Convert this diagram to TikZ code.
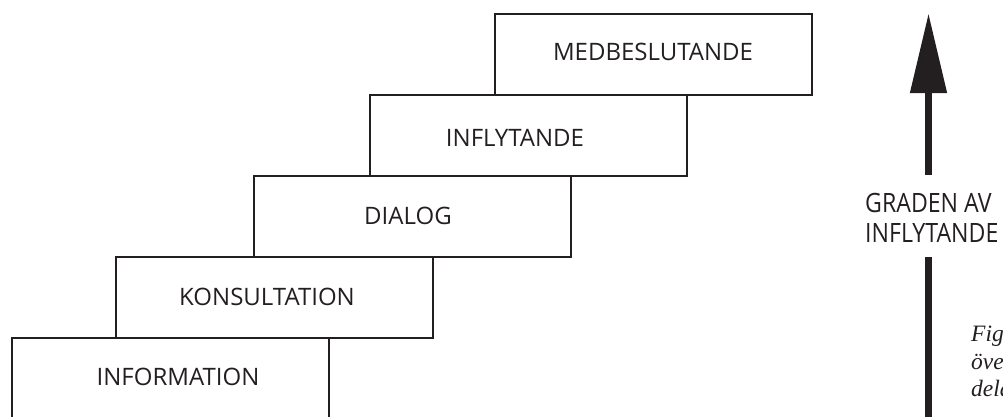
\documentclass[tikz,border=0pt]{standalone}
\usepackage{fontspec}
\setmainfont{Open Sans}
\newfontfamily\scalefont[FakeStretch=0.87]{Open Sans}
\newfontfamily\capfont{Liberation Serif}
\usetikzlibrary{arrows.meta}
\definecolor{ink}{RGB}{35,31,32}
\begin{document}
\begin{tikzpicture}[x=1pt,y=-1pt,
  stepbox/.style={draw=ink, line width=2pt, minimum width=317pt, minimum height=81pt, inner sep=0pt, anchor=north west},
  steplbl/.style={text=ink, font=\fontsize{24}{28}\selectfont, inner sep=0pt},
  scalelbl/.style={text=ink, font=\scalefont\fontsize{26.6}{30}\selectfont, inner sep=0pt, align=left, anchor=north west},
  figtext/.style={text=ink, font=\capfont\itshape\fontsize{23.5}{27.5}\selectfont, inner sep=0pt, align=left, anchor=north west}]
\useasboundingbox (0,0) rectangle (1003,416);
% boxes
\node[stepbox] (med) at (494,13) {};
\node[stepbox] (inf) at (369,94) {};
\node[stepbox] (dia) at (253,175) {};
\node[stepbox] (kon) at (115,256) {};
\node[stepbox] (info) at (11,337) {};
% labels
\node[steplbl] (tmed) at (653,52) {MEDBESLUTANDE};
\node[steplbl] (tinf) at (515,138) {INFLYTANDE};
\node[steplbl] (tdia) at (408,216) {DIALOG};
\node[steplbl] (tkon) at (267,297) {KONSULTATION};
\node[steplbl] (tinfo) at (178,377) {INFORMATION};
% arrow
\node[scalelbl] (grad) at (865,193) {GRADEN AV\\INFLYTANDE};
\coordinate (tip) at (928.5,13);
\coordinate (shafttop) at (928.5,175);
\coordinate (shaftlow) at (928.5,257);
\coordinate (shaftend) at (928.5,420);
\draw[ink, line width=7.7pt, -{Triangle[width=35pt,length=80pt]}] (shafttop) -- (tip);
\draw[ink, line width=7.7pt] (shaftlow) -- (shaftend);
% caption fragment
\node[figtext] (fig) at (971,326) {Fig\\öve\\dela};
\end{tikzpicture}
\end{document}
